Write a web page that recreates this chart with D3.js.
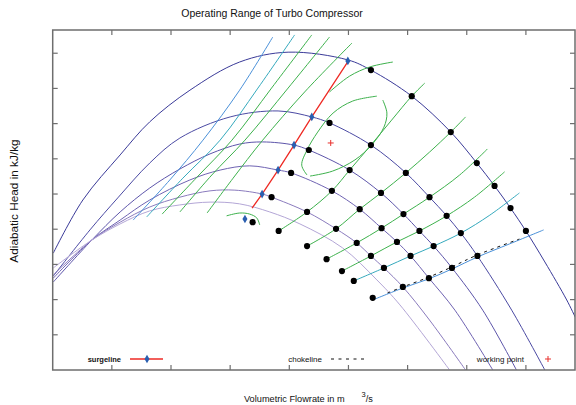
<!DOCTYPE html>
<html>
<head>
<meta charset="utf-8">
<script src="https://cdn.jsdelivr.net/npm/d3@7"></script>
<style>
  body { margin: 0; background: #fff; }
  text { font-family: "Liberation Sans", Arial, sans-serif; fill: #111; }
</style>
</head>
<body>
<svg id="chart" width="576" height="405"></svg>
<script>
// ---- axis ticks (no labels are printed) ----
const xTicks = [1, 2, 3, 4, 5, 6, 7, 8];
const yTicks = [1, 2, 3, 4, 5, 6, 7, 8, 9];

// ---- speed lines: volumetric flow vs. adiabatic head ----
const speed1 = [[0.01,3.32],[0.51,4.83],[1.14,6.11],[1.64,7.05],[2.32,7.95],[3.16,8.75],[3.98,9.03],[4.99,8.81],[5.38,8.52],[6.07,7.78],[6.73,6.76],[7.17,5.88],[7.47,5.23],[7.74,4.60],[8.00,3.95],[8.32,3.07],[8.69,1.99],[8.84,1.48]];
const speed2 = [[0.01,2.67],[0.63,3.98],[1.10,4.89],[1.64,5.88],[2.15,6.59],[3.00,7.19],[3.81,7.36],[4.38,7.19],[4.68,7.02],[5.38,6.39],[5.97,5.60],[6.37,4.91],[6.66,4.38],[6.90,3.89],[7.18,3.24],[7.76,1.70],[8.32,0]];
const speed3 = [[0.01,2.50],[0.66,3.69],[1.14,4.49],[1.64,5.17],[2.15,5.71],[2.66,6.14],[3.16,6.42],[3.55,6.48],[4.08,6.39],[4.33,6.25],[5.02,5.68],[5.55,5.03],[5.93,4.43],[6.20,3.95],[6.44,3.52],[6.75,2.90],[7.27,1.70],[7.84,0]];
const speed4 = [[0.01,2.61],[0.66,3.69],[1.14,4.26],[1.64,4.83],[2.32,5.40],[2.83,5.68],[3.33,5.80],[3.81,5.68],[4.03,5.60],[4.72,5.09],[5.19,4.57],[5.56,4.03],[5.82,3.64],[6.05,3.24],[6.36,2.61],[6.80,1.70],[7.44,0]];
const speed5 = [[0.01,2.70],[0.66,3.69],[1.14,4.20],[1.64,4.63],[2.15,4.91],[2.66,5.09],[3.08,5.11],[3.54,5.00],[3.70,4.91],[4.30,4.49],[4.79,4.01],[5.14,3.61],[5.38,3.24],[5.60,2.90],[5.92,2.36],[6.37,1.42],[6.98,0]];
const speed6 = [[0.01,2.90],[0.66,3.69],[1.14,4.15],[1.64,4.52],[2.15,4.69],[2.66,4.77],[3.16,4.72],[3.67,4.49],[4.18,4.15],[4.90,3.47],[5.48,2.56],[5.87,1.85],[6.71,0]];
const speedColors = ["#3a3a98", "#4b4aa3", "#5d55aa", "#6f63b2", "#8a7bbd", "#b3a6d6"];

// ---- measured operating points on each speed line ----
const measured1 = [[5.38,8.52],[6.07,7.78],[6.73,6.76],[7.17,5.88],[7.47,5.23],[7.74,4.60],[8.00,3.95]];
const measured2 = [[4.68,7.02],[5.38,6.39],[5.97,5.60],[6.37,4.91],[6.66,4.38],[6.90,3.89],[7.18,3.24]];
const measured3 = [[4.33,6.25],[5.02,5.68],[5.55,5.03],[5.93,4.43],[6.20,3.95],[6.44,3.52],[6.75,2.90]];
const measured4 = [[4.03,5.60],[4.72,5.09],[5.19,4.57],[5.56,4.03],[5.82,3.64],[6.05,3.24],[6.36,2.61]];
const measured5 = [[3.70,4.91],[4.30,4.49],[4.79,4.01],[5.14,3.61],[5.38,3.24],[5.60,2.90],[5.92,2.36]];
const measured6 = [[3.38,4.20],[3.82,3.95],[4.30,3.52],[4.63,3.15],[4.89,2.81],[5.09,2.53],[5.41,2.05]];

// ---- surge limit ----
const surgeLine = [[5.01,8.81],[4.38,7.19],[4.08,6.39],[3.81,5.68],[3.54,5.00],[3.37,4.60]];
const surgePoints = [[4.99,8.78],[4.38,7.19],[4.08,6.39],[3.81,5.68],[3.54,5.00],[3.25,4.29]];

// ---- choke limit ----
const chokeLine = [[5.66,2.19],[5.92,2.36],[6.36,2.64],[6.75,2.93],[7.18,3.27],[7.89,3.72]];

// ---- guide vane lines right of the surge limit ----
const vane1 = [[3.82,3.95],[4.30,4.49],[4.72,5.09],[5.02,5.68],[5.38,6.39],[5.73,7.10],[6.07,7.78],[6.29,8.15]];
const vane2 = [[4.30,3.52],[4.79,4.01],[5.19,4.57],[5.55,5.03],[5.97,5.60],[6.37,6.19],[6.73,6.76],[6.98,7.19]];
const vane3 = [[4.63,3.15],[5.14,3.61],[5.56,4.03],[5.93,4.43],[6.37,4.91],[6.88,5.54],[7.35,6.28]];
const vane4 = [[4.89,2.81],[5.38,3.24],[5.82,3.64],[6.20,3.95],[6.66,4.38],[7.13,4.91],[7.64,5.63]];
const vane5 = [[5.09,2.53],[5.60,2.90],[6.05,3.24],[6.44,3.52],[6.90,3.89],[7.39,4.40],[7.89,5.03]];
const vane6 = [[5.41,1.99],[5.92,2.33],[6.36,2.59],[6.75,2.87],[7.18,3.21],[7.72,3.58],[8.30,3.98]];

// ---- guide vane lines in the unstable region ----
const unstable1 = [[1.36,4.26],[1.98,5.40],[2.54,6.53],[3.16,7.95],[3.72,9.46]];
const unstable2 = [[1.59,4.35],[2.20,5.45],[2.83,6.53],[3.47,8.01],[4.09,9.52]];
const unstable3 = [[1.85,4.43],[2.44,5.48],[3.03,6.53],[3.70,8.01],[4.38,9.52]];
const unstable4 = [[2.15,4.49],[2.69,5.54],[3.25,6.53],[3.98,8.01],[4.68,9.46]];
const unstable5 = [[2.61,4.46],[3.05,5.45],[3.55,6.53],[4.26,7.90],[5.06,9.29]];
const unstable6 = [[2.94,4.38],[3.16,4.46],[3.33,4.43],[3.45,4.32],[3.50,4.12]];

// ---- efficiency contours ----
const effInnerA = [[4.30,5.54],[4.21,5.82],[4.30,6.25],[4.48,6.76],[4.74,7.30],[5.07,7.64],[5.48,7.78]];
const effInnerB = [[5.58,7.67],[5.65,7.30],[5.60,6.90],[5.39,6.39],[5.11,5.97],[4.73,5.65],[4.35,5.51]];
const effOuter = [[4.68,7.90],[5.02,8.35],[5.36,8.61],[5.75,8.75]];

// ---- design point ----
const workingPoint = [[4.70,6.45]];

const vaneColors = ["#3db14c", "#3db14c", "#3db14c", "#3db14c", "#35a9bd", "#4a90d8"];
const unstableColors = ["#4a90d8", "#35a9bd", "#3db14c", "#3db14c", "#3db14c", "#3db14c"];
const green = "#3db14c";

// ---- layout ----
const plot = { left: 52.7, right: 575, top: 30, bottom: 370 };

const x = d3.scaleLinear().domain([0, 8.83]).range([plot.left, plot.right]);
const y = d3.scaleLinear().domain([0, 9.66]).range([plot.bottom, plot.top]);

const svg = d3.select("#chart");

svg.append("defs").append("clipPath").attr("id", "plotClip")
  .append("rect")
  .attr("x", plot.left).attr("y", plot.top)
  .attr("width", plot.right - plot.left).attr("height", plot.bottom - plot.top);

const g = svg.append("g").attr("clip-path", "url(#plotClip)");

const line = d3.line().x(d => x(d[0])).y(d => y(d[1])).curve(d3.curveCatmullRom.alpha(0.5));
const straight = d3.line().x(d => x(d[0])).y(d => y(d[1]));

function drawCurve(data, color, width) {
  g.append("path").attr("d", line(data))
    .attr("fill", "none").attr("stroke", color).attr("stroke-width", width || 1);
}

// speed lines
[speed1, speed2, speed3, speed4, speed5, speed6].forEach((d, i) => drawCurve(d, speedColors[i], 1));

// guide vane lines
[unstable1, unstable2, unstable3, unstable4, unstable5, unstable6].forEach((d, i) => drawCurve(d, unstableColors[i], 1));
[vane1, vane2, vane3, vane4, vane5, vane6].forEach((d, i) => drawCurve(d, vaneColors[i], 1));

// efficiency contours
[effInnerA, effInnerB, effOuter].forEach(d => drawCurve(d, green, 1));

// choke line
g.append("path").attr("d", line(chokeLine))
  .attr("fill", "none").attr("stroke", "#111").attr("stroke-width", 1)
  .attr("stroke-dasharray", "3,4");

// surge line
g.append("path").attr("d", straight(surgeLine))
  .attr("fill", "none").attr("stroke", "#ee2a24").attr("stroke-width", 1.3);

// measured points
const allMeasured = [].concat(measured1, measured2, measured3, measured4, measured5, measured6);
g.selectAll("circle.meas").data(allMeasured).join("circle")
  .attr("class", "meas")
  .attr("cx", d => x(d[0])).attr("cy", d => y(d[1])).attr("r", 3.1)
  .attr("fill", "#000");

// surge points (diamonds)
const diamond = d3.symbol().type(d3.symbolDiamond).size(22);
g.selectAll("path.surge").data(surgePoints).join("path")
  .attr("class", "surge")
  .attr("transform", d => `translate(${x(d[0])},${y(d[1])})`)
  .attr("d", diamond).attr("fill", "#2a5fb0");

// working point (+)
g.selectAll("g.wp").data(workingPoint).join("g")
  .attr("class", "wp")
  .attr("transform", d => `translate(${x(d[0])},${y(d[1])})`)
  .each(function () {
    const s = d3.select(this);
    s.append("line").attr("x1", -3).attr("x2", 3).attr("y1", 0).attr("y2", 0).attr("stroke", "#e8302c").attr("stroke-width", 1);
    s.append("line").attr("x1", 0).attr("x2", 0).attr("y1", -3).attr("y2", 3).attr("stroke", "#e8302c").attr("stroke-width", 1);
  });

// ---- frame and ticks ----
const frameColor = "#6e6e6e";
svg.append("rect")
  .attr("x", plot.left).attr("y", plot.top)
  .attr("width", plot.right - plot.left).attr("height", plot.bottom - plot.top)
  .attr("fill", "none").attr("stroke", frameColor).attr("stroke-width", 1.5);

const tickLen = 5;
xTicks.forEach(t => {
  svg.append("line").attr("x1", x(t)).attr("x2", x(t)).attr("y1", plot.bottom).attr("y2", plot.bottom - tickLen)
    .attr("stroke", frameColor).attr("stroke-width", 1.2);
  svg.append("line").attr("x1", x(t)).attr("x2", x(t)).attr("y1", plot.top).attr("y2", plot.top + tickLen)
    .attr("stroke", frameColor).attr("stroke-width", 1.2);
});
yTicks.forEach(t => {
  svg.append("line").attr("x1", plot.left).attr("x2", plot.left + tickLen).attr("y1", y(t)).attr("y2", y(t))
    .attr("stroke", frameColor).attr("stroke-width", 1.2);
  svg.append("line").attr("x1", plot.right).attr("x2", plot.right - tickLen).attr("y1", y(t)).attr("y2", y(t))
    .attr("stroke", frameColor).attr("stroke-width", 1.2);
});

// ---- titles ----
svg.append("text").attr("x", 272).attr("y", 17).attr("text-anchor", "middle")
  .attr("font-size", 10.5).text("Operating Range of Turbo Compressor");

svg.append("text").attr("transform", "translate(18,201) rotate(-90)").attr("text-anchor", "middle")
  .attr("font-size", 11.8).text("Adiabatic Head in kJ/kg");

const xl = svg.append("text").attr("x", 244).attr("y", 402).attr("font-size", 9.2);
xl.append("tspan").text("Volumetric Flowrate in m");
xl.append("tspan").attr("dx", 17).attr("dy", -5).attr("font-size", 7.5).text("3");
xl.append("tspan").attr("dy", 5).text("/s");

// ---- legend ----
const legY = 359;
svg.append("text").attr("x", 121).attr("y", legY + 3).attr("text-anchor", "end")
  .attr("font-size", 7.5).attr("font-weight", "bold").text("surgeline");
svg.append("line").attr("x1", 130).attr("x2", 163).attr("y1", legY).attr("y2", legY)
  .attr("stroke", "#ee2a24").attr("stroke-width", 1.3);
svg.append("path").attr("transform", `translate(147,${legY})`).attr("d", diamond).attr("fill", "#2a5fb0");

svg.append("text").attr("x", 322).attr("y", legY + 3).attr("text-anchor", "end")
  .attr("font-size", 8).text("chokeline");
svg.append("line").attr("x1", 331).attr("x2", 364).attr("y1", legY).attr("y2", legY)
  .attr("stroke", "#111").attr("stroke-width", 1).attr("stroke-dasharray", "3,4.5");

svg.append("text").attr("x", 524).attr("y", legY + 3).attr("text-anchor", "end")
  .attr("font-size", 8).text("working point");
svg.append("line").attr("x1", 545).attr("x2", 551).attr("y1", legY).attr("y2", legY).attr("stroke", "#e8302c");
svg.append("line").attr("x1", 548).attr("x2", 548).attr("y1", legY - 3).attr("y2", legY + 3).attr("stroke", "#e8302c");
</script>
</body>
</html>
